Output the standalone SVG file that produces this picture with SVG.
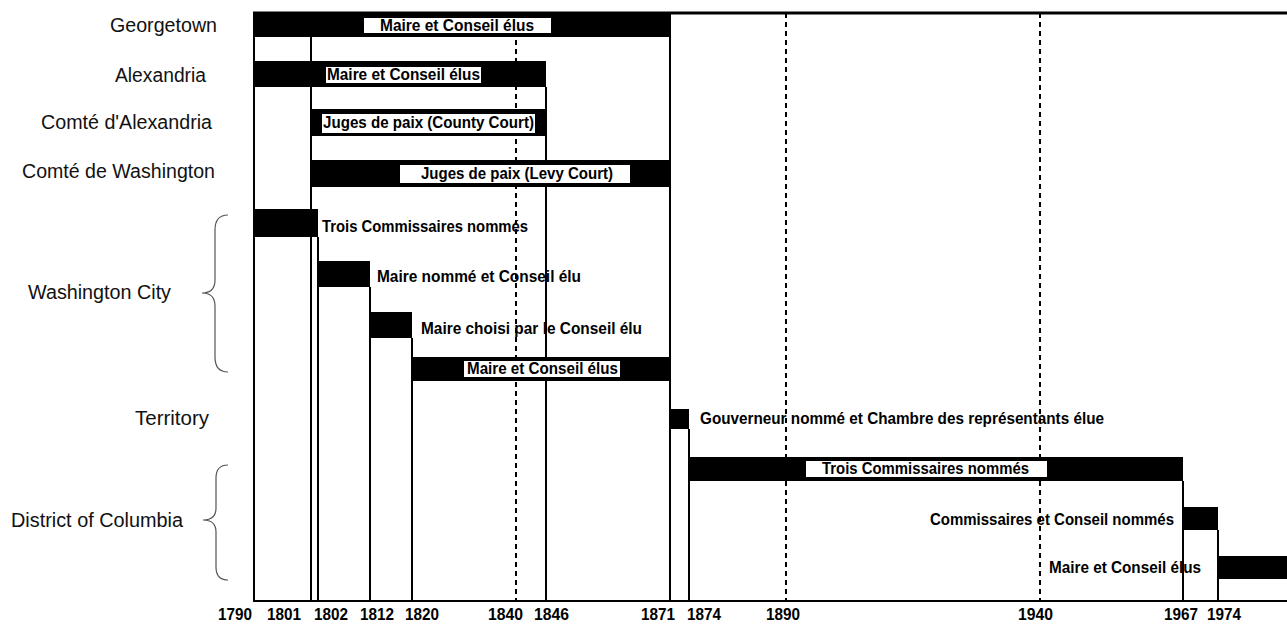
<svg xmlns="http://www.w3.org/2000/svg" width="1287" height="625" viewBox="0 0 1287 625">
<style>
.bg{fill:#fff}
.bar{fill:#000}
.lbox{fill:#fff}
.ln{stroke:#000;stroke-width:2;fill:none}
.dash{stroke:#000;stroke-width:2;stroke-dasharray:5 4;fill:none}
.brace{stroke:#555;stroke-width:1.2;fill:none}
.rl{font-family:"Liberation Sans",Arial,sans-serif;font-size:19.5px;fill:#111}
.bt{font-family:"Liberation Sans",Arial,sans-serif;font-size:16px;font-weight:bold;fill:#000}
.yr{font-family:"Liberation Sans",Arial,sans-serif;font-size:16px;font-weight:bold;fill:#000}
</style>
<rect class="bg" x="0" y="0" width="1287" height="625"/>
<g id="connectors">
  <line class="dash" x1="516" y1="13" x2="516" y2="601"/>
  <line class="dash" x1="786" y1="13" x2="786" y2="601"/>
  <line class="dash" x1="1040" y1="13" x2="1040" y2="601"/>
  <line class="ln" x1="311" y1="37" x2="311" y2="601"/>
  <line class="ln" x1="318" y1="237" x2="318" y2="601"/>
  <line class="ln" x1="370" y1="287" x2="370" y2="601"/>
  <line class="ln" x1="412" y1="338" x2="412" y2="601"/>
  <line class="ln" x1="546" y1="87" x2="546" y2="601"/>
  <line class="ln" x1="670" y1="13" x2="670" y2="601"/>
  <line class="ln" x1="689" y1="429" x2="689" y2="601"/>
  <line class="ln" x1="1183" y1="481" x2="1183" y2="601"/>
  <line class="ln" x1="1218" y1="530" x2="1218" y2="601"/>
  <line class="ln" x1="254" y1="13" x2="254" y2="601"/>
  <line class="ln" x1="253" y1="601" x2="1287" y2="601"/>
  <line x1="253" y1="13" x2="1287" y2="13" stroke="#000" stroke-width="3"/>
</g>
<g id="georgetown">
  <text class="rl" x="110" y="32" textLength="107" lengthAdjust="spacingAndGlyphs">Georgetown</text>
  <rect class="bar" x="254" y="13" width="416" height="24"/>
  <rect class="lbox" x="364" y="18" width="187" height="15"/>
  <text class="bt" x="380" y="31" textLength="154" lengthAdjust="spacingAndGlyphs">Maire et Conseil élus</text>
</g>
<g id="alexandria">
  <text class="rl" x="115" y="82" textLength="91" lengthAdjust="spacingAndGlyphs">Alexandria</text>
  <rect class="bar" x="254" y="61" width="292" height="26"/>
  <rect class="lbox" x="326" y="67" width="155" height="16"/>
  <text class="bt" x="327" y="80" textLength="153" lengthAdjust="spacingAndGlyphs">Maire et Conseil élus</text>
</g>
<g id="comte-alexandria">
  <text class="rl" x="41" y="129" textLength="171" lengthAdjust="spacingAndGlyphs">Comté d'Alexandria</text>
  <rect class="bar" x="311" y="109" width="235" height="27"/>
  <rect class="lbox" x="322" y="114" width="213" height="19"/>
  <text class="bt" x="323" y="128" textLength="211" lengthAdjust="spacingAndGlyphs">Juges de paix (County Court)</text>
</g>
<g id="comte-washington">
  <text class="rl" x="22" y="178" textLength="193" lengthAdjust="spacingAndGlyphs">Comté de Washington</text>
  <rect class="bar" x="311" y="160" width="359" height="27"/>
  <rect class="lbox" x="400" y="165" width="230" height="18"/>
  <text class="bt" x="421" y="179" textLength="192" lengthAdjust="spacingAndGlyphs">Juges de paix (Levy Court)</text>
</g>
<g id="washington-city">
  <text class="rl" x="28" y="299" textLength="143" lengthAdjust="spacingAndGlyphs">Washington City</text>
  <path class="brace" d="M228 215 Q215 215 215 230 L215 280 Q215 293 202 293 Q215 293 215 306 L215 357 Q215 372 228 372"/>
  <rect class="bar" x="254" y="209" width="64" height="28"/>
  <text class="bt" x="322" y="232" textLength="206" lengthAdjust="spacingAndGlyphs">Trois Commissaires nommés</text>
  <rect class="bar" x="318" y="261" width="52" height="26"/>
  <text class="bt" x="377" y="282" textLength="204" lengthAdjust="spacingAndGlyphs">Maire nommé et Conseil élu</text>
  <rect class="bar" x="370" y="312" width="42" height="26"/>
  <text class="bt" x="421" y="334" textLength="221" lengthAdjust="spacingAndGlyphs">Maire choisi par le Conseil élu</text>
  <rect class="bar" x="412" y="357" width="258" height="24"/>
  <rect class="lbox" x="464" y="361" width="156" height="16"/>
  <text class="bt" x="467" y="374" textLength="151" lengthAdjust="spacingAndGlyphs">Maire et Conseil élus</text>
</g>
<g id="territory">
  <text class="rl" x="135" y="425" textLength="74" lengthAdjust="spacingAndGlyphs">Territory</text>
  <rect class="bar" x="670" y="409" width="19" height="20"/>
  <text class="bt" x="700" y="424" textLength="404" lengthAdjust="spacingAndGlyphs">Gouverneur nommé et Chambre des représentants élue</text>
</g>
<g id="district-of-columbia">
  <text class="rl" x="11" y="527" textLength="172" lengthAdjust="spacingAndGlyphs">District of Columbia</text>
  <path class="brace" d="M228 465 Q216 465 216 478 L216 508 Q216 520 203 520 Q216 520 216 532 L216 567 Q216 580 228 580"/>
  <rect class="bar" x="689" y="457" width="494" height="24"/>
  <rect class="lbox" x="806" y="461" width="241" height="16"/>
  <text class="bt" x="822" y="474" textLength="207" lengthAdjust="spacingAndGlyphs">Trois Commissaires nommés</text>
  <rect class="bar" x="1183" y="507" width="35" height="23"/>
  <text class="bt" x="930" y="525" textLength="244" lengthAdjust="spacingAndGlyphs">Commissaires et Conseil nommés</text>
  <rect class="bar" x="1218" y="556" width="69" height="23"/>
  <text class="bt" x="1049" y="573" textLength="152" lengthAdjust="spacingAndGlyphs">Maire et Conseil élus</text>
</g>
<g id="years">
  <text class="yr" x="218" y="620" textLength="34" lengthAdjust="spacingAndGlyphs">1790</text>
  <text class="yr" x="267" y="620" textLength="34" lengthAdjust="spacingAndGlyphs">1801</text>
  <text class="yr" x="314" y="620" textLength="34" lengthAdjust="spacingAndGlyphs">1802</text>
  <text class="yr" x="360" y="620" textLength="34" lengthAdjust="spacingAndGlyphs">1812</text>
  <text class="yr" x="405" y="620" textLength="34" lengthAdjust="spacingAndGlyphs">1820</text>
  <text class="yr" x="488" y="620" textLength="35" lengthAdjust="spacingAndGlyphs">1840</text>
  <text class="yr" x="534" y="620" textLength="35" lengthAdjust="spacingAndGlyphs">1846</text>
  <text class="yr" x="641" y="620" textLength="34" lengthAdjust="spacingAndGlyphs">1871</text>
  <text class="yr" x="687" y="620" textLength="34" lengthAdjust="spacingAndGlyphs">1874</text>
  <text class="yr" x="766" y="620" textLength="34" lengthAdjust="spacingAndGlyphs">1890</text>
  <text class="yr" x="1018" y="620" textLength="35" lengthAdjust="spacingAndGlyphs">1940</text>
  <text class="yr" x="1164" y="620" textLength="34" lengthAdjust="spacingAndGlyphs">1967</text>
  <text class="yr" x="1207" y="620" textLength="34" lengthAdjust="spacingAndGlyphs">1974</text>
</g>
</svg>
